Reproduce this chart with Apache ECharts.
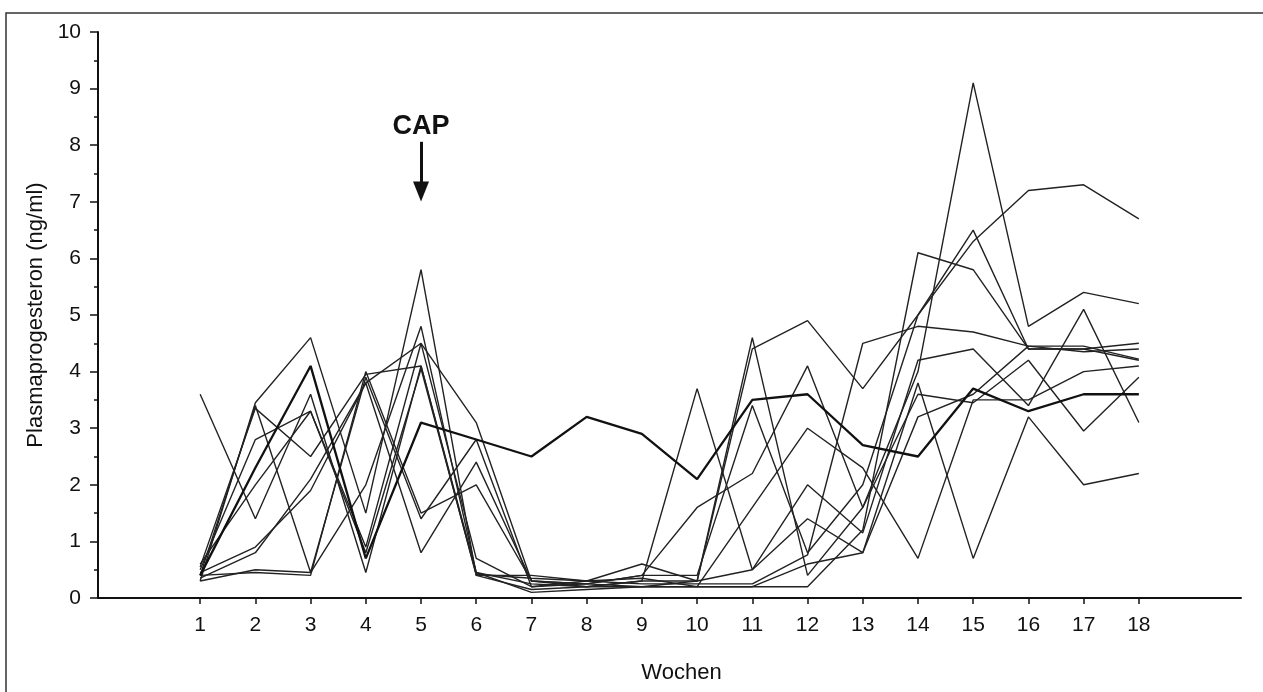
<!DOCTYPE html>
<html>
<head>
<meta charset="utf-8">
<script src="https://cdn.jsdelivr.net/npm/echarts@6/dist/echarts.min.js"></script>
<style>
    html, body { margin: 0; padding: 0; background: #fff; }
    #chart { width: 1263px; height: 692px; }
</style>
</head>
<body>
<div id="chart"></div>
<script>
// Wochen 1..18
var weeks = [1,2,3,4,5,6,7,8,9,10,11,12,13,14,15,16,17,18];
var yTicks = [0,1,2,3,4,5,6,7,8,9,10];

// Einzelverläufe (dünne Linien), Plasmaprogesteron ng/ml
var tier1  = [0.35,0.8,2.1,3.8,4.5,3.1,0.3,0.25,0.2,0.2,0.2,0.2,1.2,6.1,5.8,4.4,4.4,4.5];
var tier2  = [0.3,3.45,4.6,1.5,5.8,0.4,0.15,0.2,0.3,0.3,4.6,0.4,1.6,4.0,9.1,4.8,5.4,5.2];
var tier3  = [3.6,1.4,3.6,0.45,4.1,0.45,0.1,0.15,0.2,0.3,4.4,4.9,3.7,5.0,6.5,4.4,4.4,4.2];
var tier4  = [0.4,3.4,0.45,3.9,1.4,2.8,0.2,0.25,0.4,0.4,3.4,0.8,2.0,5.0,6.3,7.2,7.3,6.7];
var tier5  = [0.5,2.8,3.3,0.8,4.05,0.42,0.35,0.3,0.25,0.25,0.25,0.76,4.5,4.8,4.7,4.45,4.35,4.4];
var tier6  = [0.45,0.9,1.9,3.8,0.8,2.4,0.3,0.2,0.3,3.7,0.5,1.4,0.8,3.8,0.7,3.2,2.0,2.2];
var tier7  = [0.3,0.5,0.45,2.0,4.8,0.45,0.25,0.2,0.2,0.2,1.6,3.0,2.3,0.7,3.5,3.5,4.0,4.1];
var tier8  = [0.6,2.0,3.3,0.9,4.5,0.7,0.2,0.3,0.6,0.3,0.5,2.0,1.15,4.2,4.4,3.4,5.1,3.1];
var tier9  = [0.4,0.45,0.4,4.0,1.5,2.0,0.3,0.25,0.4,1.6,2.2,4.1,1.6,3.6,3.45,4.2,2.95,3.9];
var tier10 = [0.55,3.35,2.5,3.95,4.1,0.4,0.4,0.3,0.35,0.2,0.2,0.6,0.8,3.2,3.6,4.45,4.45,4.22];
// dicke Linie
var mittel = [0.4,2.3,4.1,0.7,3.1,2.8,2.5,3.2,2.9,2.1,3.5,3.6,2.7,2.5,3.7,3.3,3.6,3.6];

var thinSeries = [tier1,tier2,tier3,tier4,tier5,tier6,tier7,tier8,tier9,tier10];

// CAP Pfeil bei Woche 5
var capWeek = 5;
var capFrom = 8.06;
var capTo = 7.18;

function pairs (vals) {
    return weeks.map(function (w, i) { return [w, vals[i]]; });
}

var chart = echarts.init(document.getElementById('chart'));
var font = '"Liberation Sans", Arial, sans-serif';

var series = thinSeries.map(function (vals, i) {
    return {
        name: 'Tier ' + (i + 1),
        type: 'line',
        data: pairs(vals),
        showSymbol: false,
        symbol: 'none',
        lineStyle: { color: '#222', width: 1.4 }
    };
});
series.push({
    name: 'Mittel',
    type: 'line',
    data: pairs(mittel),
    showSymbol: false,
    symbol: 'none',
    z: 3,
    lineStyle: { color: '#111', width: 2.3 },
    markLine: {
        silent: true,
        symbol: ['none', 'triangle'],
        symbolSize: [16, 20],
        lineStyle: { color: '#111', width: 3, type: 'solid' },
        label: {
            show: true,
            position: 'start',
            formatter: 'CAP',
            distance: 2,
            color: '#111',
            fontFamily: font,
            fontWeight: 'bold',
            fontSize: 27
        },
        data: [[{ coord: [capWeek, capFrom] }, { coord: [capWeek, capTo] }]]
    }
});

var option = {
    animation: false,
    backgroundColor: '#fff',
    graphic: [{
        type: 'rect',
        silent: true,
        shape: { x: 6, y: 13, width: 1300, height: 720 },
        style: { fill: 'none', stroke: '#333', lineWidth: 1.5 }
    }],
    grid: { left: 98, top: 32, right: 22, bottom: 94 },
    xAxis: {
        type: 'value',
        min: -0.85,
        max: 19.85,
        name: 'Wochen',
        nameLocation: 'middle',
        nameGap: 64,
        nameTextStyle: { fontFamily: font, fontSize: 22, color: '#111', padding: [0, 0, 0, 24] },
        splitLine: { show: false },
        axisLine: { onZero: false, lineStyle: { color: '#111', width: 2 } },
        axisTick: { customValues: weeks, length: 6, lineStyle: { color: '#111', width: 1.5 } },
        axisLabel: { customValues: weeks, margin: 17, fontFamily: font, fontSize: 21, color: '#111' }
    },
    yAxis: {
        type: 'value',
        min: 0,
        max: 10,
        interval: 1,
        name: 'Plasmaprogesteron (ng/ml)',
        nameLocation: 'middle',
        nameGap: 44,
        nameTextStyle: { fontFamily: font, fontSize: 22, color: '#111' },
        splitLine: { show: false },
        axisLine: { show: true, onZero: false, lineStyle: { color: '#111', width: 2 } },
        axisTick: { show: true, length: 8, lineStyle: { color: '#111', width: 1.5 } },
        minorTick: { show: true, splitNumber: 2, length: 4, lineStyle: { color: '#111', width: 1.5 } },
        axisLabel: { margin: 17, fontFamily: font, fontSize: 21, color: '#111' }
    },
    series: series
};
chart.setOption(option);
</script>
</body>
</html>
